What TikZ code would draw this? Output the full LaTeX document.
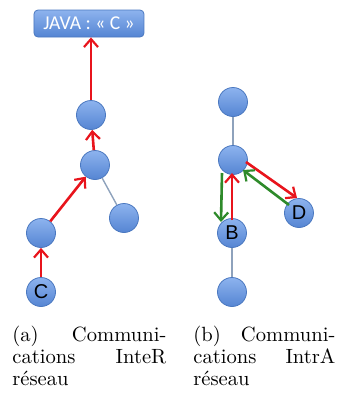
\documentclass[tikz,border=0pt]{standalone}
\usepackage{fontspec}
\newfontfamily\boxfont{Carlito}
\newfontfamily\letterfont{Liberation Sans}
\usetikzlibrary{arrows.meta}
\definecolor{balltop}{HTML}{8DB3EE}
\definecolor{ballbot}{HTML}{5585D3}
\definecolor{balledge}{HTML}{4A78C0}
\definecolor{redarr}{HTML}{E8141C}
\definecolor{greenarr}{HTML}{2E8A2A}
\definecolor{linkgray}{HTML}{8EA2BC}
\tikzset{
  ball/.style={circle, minimum size=14.5pt, inner sep=0pt, draw=balledge, line width=0.4pt,
    top color=balltop, bottom color=ballbot, font=\letterfont\fontsize{10}{10}\selectfont},
  javabox/.style={rounded corners=2pt, draw=balledge, line width=0.4pt, top color=balltop, bottom color=ballbot,
    minimum width=55pt, minimum height=13.5pt, inner sep=0pt, text=white, font=\boxfont\fontsize{9.8}{9.8}\selectfont},
  redline/.style={draw=redarr, line width=1.3pt, -{Straight Barb[length=4pt,width=7pt,line width=1.1pt]}},
  greenline/.style={draw=greenarr, line width=1.3pt, -{Straight Barb[length=4pt,width=7pt,line width=1.1pt]}},
  link/.style={draw=linkgray, line width=0.7pt},
  captext/.style={anchor=north west, inner sep=0pt, align=left, font=\fontsize{10.3}{11}\selectfont}
}
\begin{document}
\begin{tikzpicture}[x=0.5pt,y=-0.5pt]
\useasboundingbox (0,0) rectangle (343,398);
% left tree
\node[javabox] (java) at (89,23.5) {JAVA : « C »};
\node[ball] (a1) at (91,115) {};
\node[ball] (a2) at (95,165) {};
\node[ball] (a3) at (124,218) {};
\node[ball] (a4) at (41,233) {};
\node[ball] (c) at (41,292) {C};
\draw[link] (a2) -- (a3);
\draw[redline] (c) -- (a4);
\draw[redline] (a4) -- (a2);
\draw[redline] (a2) -- (a1);
\draw[redline] (a1.north) -- (java.south -| a1.north);
% right tree
\node[ball] (b1) at (233,102) {};
\node[ball] (b2) at (233,160) {};
\node[ball] (d) at (299,213) {D};
\node[ball] (b) at (232,233) {B};
\node[ball] (b3) at (232,292) {};
\draw[link] (b1) -- (b2);
\draw[link] (b) -- (b3);
\coordinate (g1s) at (222,173);
\coordinate (g1e) at (221,222);
\draw[greenline] (g1s) -- (g1e);
\coordinate (r1s) at (232,220);
\coordinate (r1e) at (232,173);
\draw[redline] (r1s) -- (r1e);
\coordinate (r2s) at (246,162);
\coordinate (r2e) at (297,198);
\draw[redline] (r2s) -- (r2e);
\coordinate (g2s) at (289,205);
\coordinate (g2e) at (243,170);
\draw[greenline] (g2s) -- (g2e);
% captions
\node[captext, text width=77pt] (capa) at (12,326) {(a)\hfill Communi-\\cations\hfill InteR\\réseau};
\node[captext, text width=71pt] (capb) at (193,326) {(b)\hfill Communi-\\cations\hfill IntrA\\réseau};
\end{tikzpicture}
\end{document}
